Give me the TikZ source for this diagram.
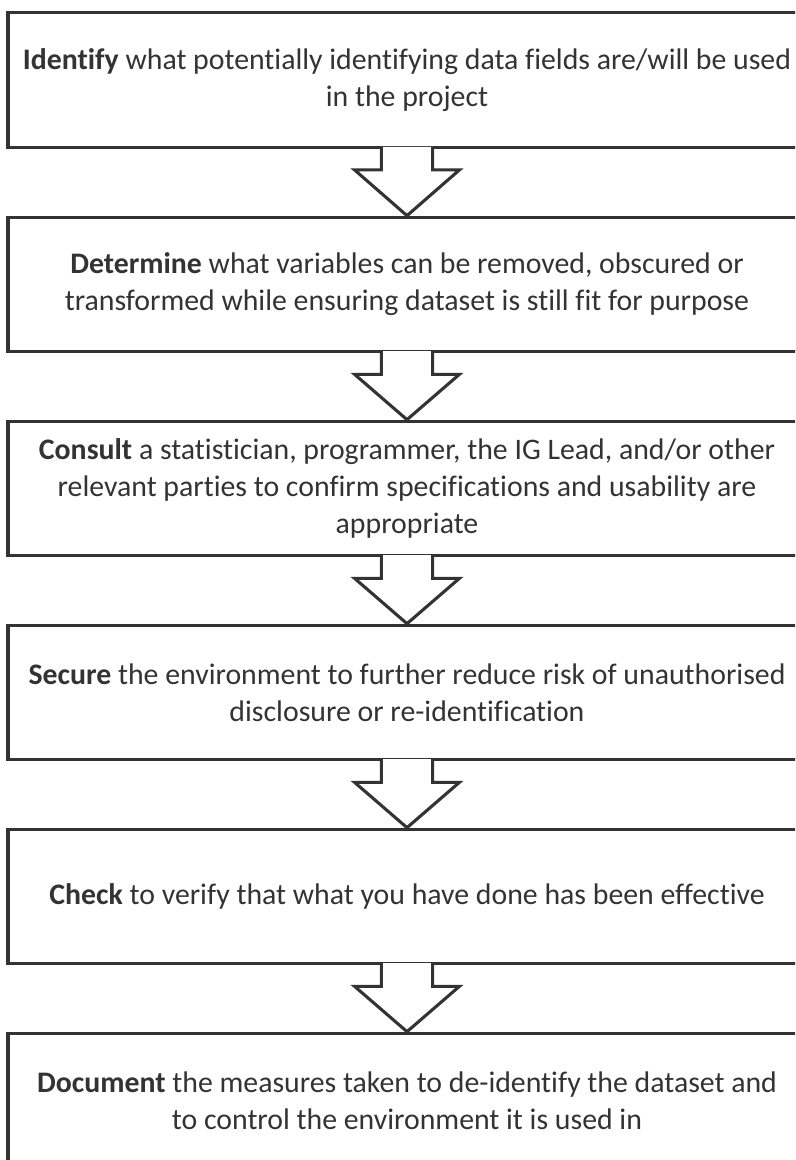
\documentclass[tikz,border=0pt]{standalone}
\usepackage{fontspec}
\setmainfont[Ligatures=NoCommon]{Carlito}
\usetikzlibrary{calc}
\definecolor{inkgray}{HTML}{333333}
\tikzset{
  stepbox/.style={draw=inkgray, line width=2.2pt, minimum width=19.95cm, minimum height=3.36cm,
    align=center, text=inkgray, font=\fontsize{21.2}{26.5}\selectfont},
  downarrow/.style={draw=inkgray, line width=2.2pt, fill=white, line join=miter}
}
\begin{document}
\begin{tikzpicture}
  \useasboundingbox (0,0) rectangle (19.875,-29);
  \clip (0,0) rectangle (19.875,-29);

  \node[stepbox] (identify) at (10.175,-2.0) {\textbf{Identify} what potentially identifying data fields are/will be used\\in the project};
  \node[stepbox] (determine) at (10.175,-7.11) {\textbf{Determine} what variables can be removed, obscured or\\transformed while ensuring dataset is still fit for purpose};
  \node[stepbox] (consult) at (10.175,-12.21) {\textbf{Consult} a statistician, programmer, the IG Lead, and/or other\\relevant parties to confirm specifications and usability are\\appropriate};
  \node[stepbox] (secure) at (10.175,-17.31) {\textbf{Secure} the environment to further reduce risk of unauthorised\\disclosure or re-identification};
  \node[stepbox] (check) at (10.175,-22.41) {\textbf{Check} to verify that what you have done has been effective};
  \node[stepbox] (document) at (10.175,-27.51) {\textbf{Document} the measures taken to de-identify the dataset and\\to control the environment it is used in};

  \foreach \a/\b in {identify/determine, determine/consult, consult/secure, secure/check, check/document}
    \draw[downarrow] ($(\a.south)+(-0.64,0.05)$) -- ($(\a.south)+(-0.64,-0.53)$)
      -- ($(\a.south)+(-1.31,-0.53)$) -- (\b.north) -- ($(\a.south)+(1.31,-0.53)$)
      -- ($(\a.south)+(0.64,-0.53)$) -- ($(\a.south)+(0.64,0.05)$);
\end{tikzpicture}
\end{document}
